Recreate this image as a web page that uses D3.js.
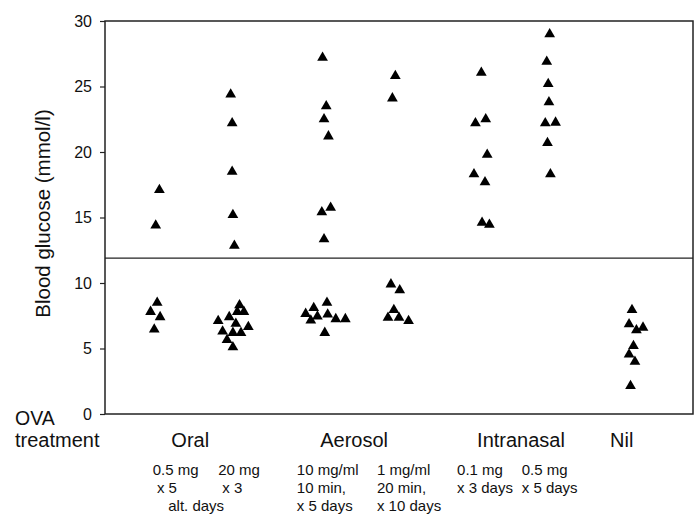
<!DOCTYPE html>
<html>
<head>
<meta charset="utf-8">
<script src="https://cdn.jsdelivr.net/npm/d3@7"></script>
<style>
  body { margin: 0; background: #fff; }
  text { font-family: "Liberation Sans", Arial, sans-serif; fill: #111; }
</style>
</head>
<body>
<div class="canvas"></div>
<script>
// each point: [position along treatment axis, blood glucose (mmol/l)]
const oral05 = [[0.74, 17.1], [0.69, 14.4], [0.71, 8.5], [0.62, 7.8], [0.75, 7.4], [0.67, 6.45]];
const oral20 = [[1.71, 24.4], [1.73, 22.2], [1.73, 18.5], [1.74, 15.2], [1.76, 12.85],
    [1.54, 7.1], [1.69, 7.4], [1.83, 8.3], [1.80, 7.8], [1.89, 7.8], [1.78, 6.9],
    [1.95, 6.65], [1.60, 6.3], [1.74, 6.2], [1.85, 6.2], [1.66, 5.65], [1.74, 5.1]];
const aero10 = [[2.96, 27.2], [3.01, 23.5], [2.98, 22.5], [3.04, 21.2], [3.07, 15.75], [2.95, 15.4], [2.98, 13.35],
    [3.02, 8.5], [2.84, 8.1], [2.73, 7.65], [2.89, 7.45], [3.03, 7.6], [2.80, 7.15], [3.14, 7.25], [3.27, 7.25], [2.99, 6.2]];
const aero1 = [[3.95, 25.8], [3.91, 24.1], [3.89, 9.9], [4.01, 9.45], [3.93, 7.95], [3.85, 7.35], [4.00, 7.35], [4.13, 7.1]];
const nasal01 = [[5.12, 26.05], [5.04, 22.2], [5.18, 22.5], [5.20, 19.8], [5.02, 18.3], [5.17, 17.7], [5.13, 14.6], [5.23, 14.45]];
const nasal05 = [[6.05, 29.0], [6.01, 26.9], [6.03, 25.2], [6.04, 23.8], [5.99, 22.2], [6.13, 22.25], [6.02, 20.7], [6.06, 18.3]];
const nil = [[7.17, 7.95], [7.13, 6.85], [7.23, 6.4], [7.32, 6.6], [7.19, 5.2], [7.13, 4.55], [7.21, 4.0], [7.15, 2.15]];

const threshold = 11.9;
const yTicks = [0, 5, 10, 15, 20, 25, 30];

const routes = ['Oral', 'Aerosol', 'Intranasal', 'Nil'];
const routeX = [1.16, 3.39, 5.66, 7.03];

const doses = [
    ['0.5 mg', ' x 5', ''],
    ['20 mg', ' x 3', ''],
    ['10 mg/ml', '10 min,', 'x 5 days'],
    ['1 mg/ml', '20 min,', 'x 10 days'],
    ['0.1 mg', 'x 3 days', ''],
    ['0.5 mg', 'x 5 days', '']
];
const doseX = [0.65, 1.54, 2.61, 3.70, 4.79, 5.67];
const sharedNote = 'alt. days';
const sharedNoteX = 0.86;

const allPoints = [oral05, oral20, aero10, aero1, nasal01, nasal05, nil].flat();

const svg = d3.select('.canvas')
    .append('svg')
    .attr('width', 700)
    .attr('height', 516);

const x = d3.scaleLinear().domain([0, 8]).range([105, 693]);
const y = d3.scaleLinear().domain([0, 30]).range([414, 21]);

// frame
svg.append('rect')
    .attr('x', x(0))
    .attr('y', y(30))
    .attr('width', x(8) - x(0))
    .attr('height', y(0) - y(30))
    .attr('fill', 'none')
    .attr('stroke', '#222')
    .attr('stroke-width', 1.5);

// y axis
const yAxis = d3.axisLeft(y)
    .tickValues(yTicks)
    .tickSize(5)
    .tickSizeOuter(0)
    .tickPadding(8);

const gy = svg.append('g')
    .attr('transform', `translate(${x(0)}, 0)`)
    .call(yAxis);
gy.select('.domain').remove();
gy.selectAll('line').attr('stroke', '#222').attr('stroke-width', 1.2);
gy.selectAll('text')
    .attr('font-size', 16)
    .attr('fill', '#111')
    .style('font-family', '"Liberation Sans", Arial, sans-serif');

svg.append('text')
    .attr('transform', `translate(50, ${y(15) - 4}) rotate(-90)`)
    .attr('text-anchor', 'middle')
    .attr('font-size', 20.5)
    .text('Blood glucose (mmol/l)');

// cut-off line
svg.append('line')
    .attr('x1', x(0))
    .attr('x2', x(8))
    .attr('y1', y(threshold))
    .attr('y2', y(threshold))
    .attr('stroke', '#222')
    .attr('stroke-width', 1.3);

// points
svg.append('g')
    .selectAll('path')
    .data(allPoints)
    .enter()
    .append('path')
    .attr('d', d3.symbol(d3.symbolTriangle, 50))
    .attr('transform', d => `translate(${x(d[0])}, ${y(d[1])})`)
    .attr('fill', '#000');

// labels under the chart
svg.append('text').attr('x', 15).attr('y', 425).attr('font-size', 19.5).text('OVA');
svg.append('text').attr('x', 15).attr('y', 447).attr('font-size', 20).text('treatment');

svg.append('g')
    .selectAll('text')
    .data(routes)
    .enter()
    .append('text')
    .attr('x', (d, i) => x(routeX[i]))
    .attr('y', 447)
    .attr('text-anchor', 'middle')
    .attr('font-size', 20)
    .text(d => d);

const doseG = svg.append('g');
doses.forEach((lines, i) => {
    lines.forEach((line, j) => {
        doseG.append('text')
            .attr('x', x(doseX[i]))
            .attr('y', 475 + j * 18)
            .attr('font-size', 15)
            .attr('xml:space', 'preserve')
            .text(line);
    });
});
doseG.append('text')
    .attr('x', x(sharedNoteX))
    .attr('y', 511)
    .attr('font-size', 15)
    .text(sharedNote);
</script>
</body>
</html>
